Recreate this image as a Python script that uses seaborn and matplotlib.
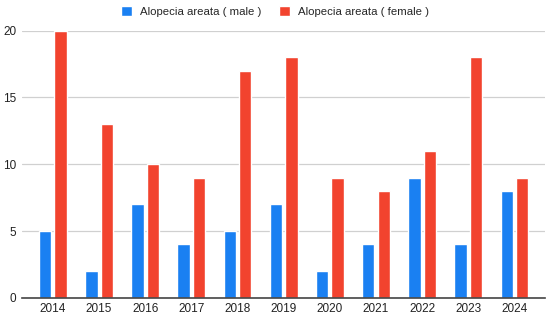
import pandas as pd
import seaborn as sns
import matplotlib.pyplot as plt

# Dados do gráfico
years = ['2014', '2015', '2016', '2017', '2018', '2019', '2020', '2021', '2022', '2023', '2024']
male = [5, 2, 7, 4, 5, 7, 2, 4, 9, 4, 8]
female = [20, 13, 10, 9, 17, 18, 9, 8, 11, 18, 9]
series_names = ['Alopecia areata ( male )', 'Alopecia areata ( female )']

df = pd.DataFrame({'year': years * 2,
                   'count': male + female,
                   'series': [series_names[0]] * len(years) + [series_names[1]] * len(years)})

sns.set_style('white')
plt.rcParams['font.family'] = ['Liberation Sans', 'DejaVu Sans']

fig, ax = plt.subplots(figsize=(5.5, 3.22), dpi=100)
palette = {series_names[0]: '#1a80f2', series_names[1]: '#f2432e'}
sns.barplot(data=df, x='year', y='count', hue='series', palette=palette,
            width=0.67, gap=0.2, saturation=1, ax=ax)

ax.set_ylim(0, 20)
ax.set_yticks([0, 5, 10, 15, 20])
ax.yaxis.grid(True, color='#d0d0d0', linewidth=0.9)
ax.set_axisbelow(True)
ax.set_xlabel('')
ax.set_ylabel('')
for s in ['top', 'right', 'left']:
    ax.spines[s].set_visible(False)
ax.spines['bottom'].set_color('#444444')
ax.spines['bottom'].set_linewidth(1.2)
ax.tick_params(axis='both', length=0, labelsize=8.5, colors='#222222', pad=4)
ax.set_xlim(-0.67, 10.65)

ax.get_legend().remove()
handles, labels = ax.get_legend_handles_labels()
fig.legend(handles, labels, loc='center', bbox_to_anchor=(0.5, 0.965), ncol=2, frameon=False,
           fontsize=8.2, handlelength=1.0, handleheight=1.0, columnspacing=1.5, handletextpad=0.7)

fig.subplots_adjust(left=0.04, right=0.99, top=0.905, bottom=0.075)
fig.savefig('out.png', dpi=100)
